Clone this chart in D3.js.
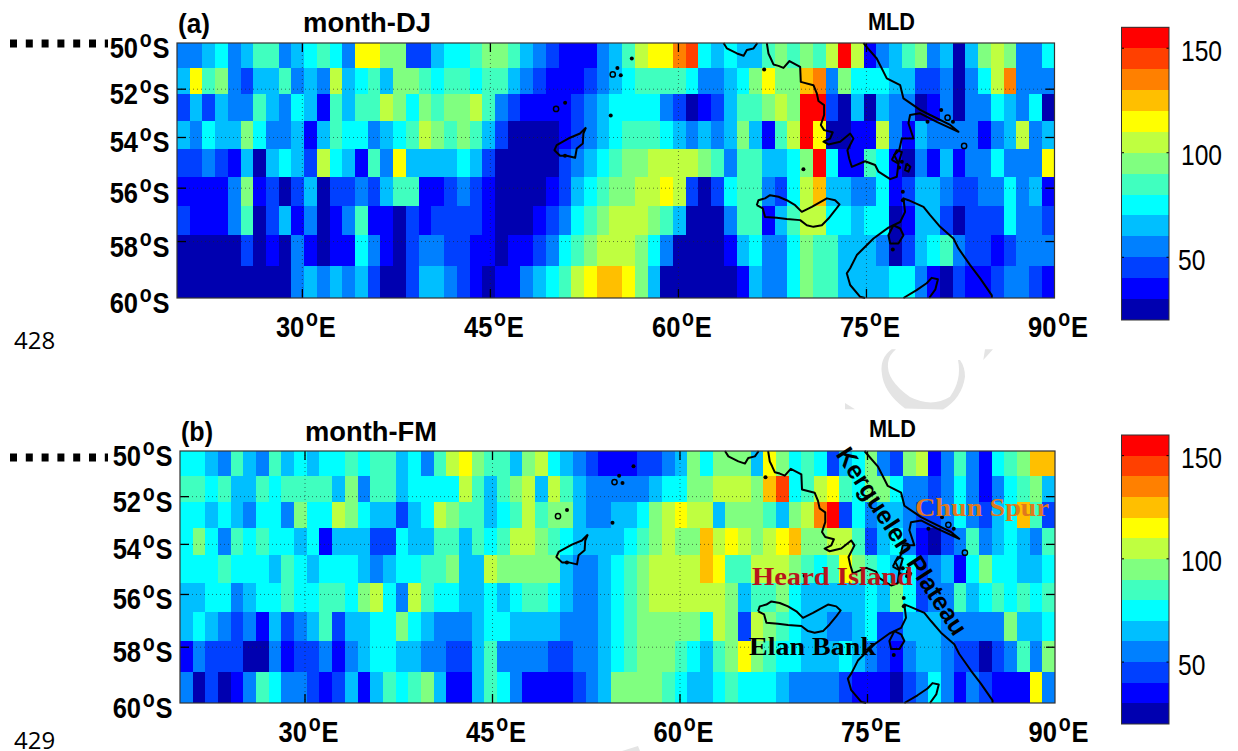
<!DOCTYPE html>
<html>
<head>
<meta charset="utf-8">
<title>MLD month-DJ and month-FM</title>
<script src="https://cdn.jsdelivr.net/npm/d3@7"></script>
<style>
    html, body { margin: 0; background: #fff; overflow: hidden; }
    text { font-family: "Liberation Sans", Arial, sans-serif; fill: #000; }
</style>
</head>
<body>
<div id="wrapper"></div>
<script>
// mixed layer depth, one row per latitude band (north to south), 69 longitude bins
const mldDJ = [
    [55,55,65,75,55,65,85,85,55,65,75,85,75,55,115,115,95,95,45,45,65,75,75,85,95,95,85,65,55,45,35,35,35,55,65,85,105,115,115,135,145,75,65,75,65,65,85,95,85,95,85,105,155,105,35,55,65,85,95,55,65,25,65,95,105,95,55,55,75],
    [65,115,85,95,55,45,65,65,85,55,65,55,105,65,75,85,65,95,95,85,75,85,85,75,85,85,65,55,45,35,35,35,45,55,65,75,85,85,85,85,75,55,55,65,75,95,115,95,95,125,135,55,95,75,75,75,65,65,45,45,55,25,55,75,105,135,55,55,55],
    [45,65,45,65,55,55,85,65,55,75,65,35,85,65,85,85,105,95,75,95,85,95,95,105,85,55,45,35,35,35,35,45,55,65,75,75,75,75,55,45,25,35,45,65,85,85,95,105,95,155,155,45,25,65,25,65,55,55,25,35,55,25,55,55,75,65,55,75,25],
    [65,55,75,65,65,95,75,55,55,65,35,65,85,75,75,55,65,75,85,105,95,85,95,85,65,45,25,25,25,25,35,45,55,65,75,85,85,85,75,65,55,65,55,65,95,65,35,85,105,155,115,25,25,35,35,105,55,35,65,55,55,55,55,35,55,65,105,55,65],
    [45,45,55,45,35,65,25,65,75,65,45,105,75,65,35,85,55,115,65,65,65,65,75,65,45,25,25,25,25,25,45,55,65,75,85,95,95,105,105,105,105,95,85,55,85,85,65,65,75,95,155,75,35,35,85,75,35,25,55,35,65,35,55,55,75,55,55,55,115],
    [35,35,35,35,55,95,35,45,25,45,65,25,45,45,55,45,65,85,85,35,35,45,55,45,35,25,25,25,25,35,45,65,75,85,95,95,105,105,115,105,45,25,45,75,85,85,55,45,75,105,125,65,65,55,55,75,35,45,65,65,55,45,45,55,55,75,55,65,35],
    [45,35,35,35,55,85,25,45,65,35,55,25,35,55,85,35,35,25,45,35,45,45,45,45,35,25,25,25,35,45,55,75,85,95,105,105,105,95,85,65,25,25,25,55,85,85,35,65,85,105,105,75,75,65,75,75,25,35,65,65,45,25,45,45,45,75,55,55,45],
    [25,25,25,25,25,45,25,35,25,55,35,25,35,35,75,55,35,25,45,55,55,45,45,35,35,25,35,35,45,55,75,85,95,105,105,105,95,75,55,25,25,25,25,35,65,75,55,55,75,95,85,85,65,65,65,55,25,45,65,75,85,55,45,45,35,45,55,55,55],
    [25,25,25,25,25,25,25,25,25,55,65,55,65,55,65,45,25,25,45,65,65,55,45,35,25,35,35,55,65,75,85,105,115,125,125,115,95,65,25,25,25,25,25,25,35,65,55,55,75,95,85,85,65,65,65,65,75,75,55,35,25,45,35,35,45,55,55,45,35]
];
const mldFM = [
    [75,75,65,55,85,65,55,85,65,75,65,75,75,85,75,85,85,65,75,55,85,105,115,95,85,85,65,95,105,75,65,55,45,35,35,35,45,45,55,65,95,75,95,95,95,65,115,95,75,85,75,45,65,75,95,55,45,95,105,35,55,85,55,35,75,85,95,125,125],
    [85,85,75,85,65,65,85,75,85,85,85,85,65,95,55,85,85,65,75,75,75,75,105,85,65,85,95,105,65,105,85,65,55,55,55,55,55,65,75,75,95,95,105,105,105,95,125,145,75,85,105,115,85,75,95,95,75,55,55,45,55,75,55,35,55,75,85,95,65],
    [75,75,65,75,65,55,75,75,55,95,75,75,105,95,75,65,65,45,65,75,105,95,85,85,65,75,85,105,85,95,95,65,55,55,65,65,75,95,105,115,105,105,65,95,95,95,85,65,95,105,135,155,45,75,55,65,65,55,45,45,55,75,55,45,65,75,125,85,45],
    [75,95,75,55,85,75,85,75,75,65,75,35,65,65,65,45,45,75,65,65,85,85,65,85,75,85,105,105,95,85,75,65,65,65,65,75,85,95,105,95,95,125,105,115,105,95,105,115,125,95,95,105,105,85,45,65,75,55,35,25,45,55,85,55,65,75,65,55,85],
    [75,75,75,85,75,75,75,65,85,75,65,75,75,75,65,55,65,75,75,85,85,95,65,65,105,95,95,95,95,95,65,55,55,65,75,85,95,105,105,105,105,125,115,85,85,105,105,105,95,85,75,85,115,95,85,75,65,75,45,55,65,35,75,95,75,75,65,65,75],
    [65,65,75,75,55,65,75,75,85,75,75,85,85,75,95,105,75,55,105,85,75,75,65,65,75,65,75,85,85,75,65,55,55,65,75,85,95,105,105,105,105,105,105,95,65,85,85,95,75,65,65,65,65,65,75,65,95,75,45,55,55,85,65,75,85,75,85,75,85],
    [65,75,65,55,45,55,35,65,45,55,65,85,45,65,65,75,75,95,75,65,55,55,55,65,75,75,65,65,65,65,55,55,55,65,75,85,95,95,95,95,95,75,105,95,45,105,95,85,75,65,65,55,55,65,75,45,45,65,65,65,55,55,55,55,55,95,65,65,75],
    [35,55,45,45,45,25,25,55,35,45,45,55,35,55,65,75,75,65,65,55,55,45,45,65,85,55,55,55,55,45,45,55,55,65,75,85,95,95,95,85,75,65,85,95,115,95,85,75,75,65,65,65,75,65,55,45,35,55,65,65,55,45,45,25,45,55,85,55,95],
    [55,25,45,25,35,55,85,75,55,55,45,35,45,65,35,65,85,75,85,95,65,35,35,65,85,75,55,35,35,35,35,45,55,65,95,95,95,95,85,75,65,65,75,85,75,75,75,65,55,55,55,55,45,35,35,35,25,45,55,75,55,35,55,45,35,35,35,115,55]
];
const latTicks = [50, 52, 54, 56, 58, 60];
const lonTicks = [30, 45, 60, 75, 90];
const colorTicks = [50, 100, 150];
const jetColors = ['#0000b0', '#0000ff', '#0040ff', '#0080ff', '#00bfff', '#00ffff', '#40ffbf', '#80ff80', '#bfff40', '#ffff00', '#ffbf00', '#ff8000', '#ff4000', '#ff0000'];

// contours as [lon, lat south]
const plateauCoast = [[67.05,50],[67.18,50.46],[67.37,50.68],[67.58,50.94],[67.98,51],[68.38,51.09],[68.86,50.79],[69.71,51.04],[69.76,51.69],[70.77,51.83],[71.04,52.18],[71.17,52.5],[71.62,52.67],[71.62,53.08],[71.36,53.49],[71.62,53.7],[72.31,53.79],[72.1,54.04],[71.57,54.17],[71.97,54.28],[72.9,54.17],[73.7,53.84],[73.96,54.04],[73.48,54.51],[73.62,54.84],[73.83,55.17],[74.89,54.95],[75.69,55.1],[75.96,55.36],[76.89,55.65],[77.42,55.56],[77.55,55.04],[77.21,54.7],[77.61,54.51],[77.82,54.04],[78.75,54.04],[78.35,53.42],[78.48,53.08],[79.28,53.01],[80.61,53.36],[82.34,53.77],[81.68,53.49],[80.08,53.08],[79.28,52.87],[77.95,52.39],[77.69,51.83],[76.62,51.54],[76.36,51.26],[75.82,50.68],[74.89,50.09],[74.76,50]];
const elanCoast = [[66.25,56.65],[66.38,56.46],[66.91,56.39],[67.31,56.27],[67.98,56.33],[68.64,56.46],[69.31,56.65],[69.84,56.9],[70.64,56.71],[71.84,56.39],[72.5,56.46],[72.85,56.62],[72.5,56.84],[71.97,57.15],[71.44,57.4],[70.77,57.46],[70.24,57.4],[69.71,57.21],[68.64,57.17],[67.84,57.12],[66.91,57.09],[66.73,56.77],[66.25,56.65]];
const southCoast = [[74.89,60],[74.5,59.96],[73.7,59.55],[73.43,59.14],[73.7,58.96],[74.23,58.49],[75.56,57.89],[76.75,57.49],[77.69,57.28],[78.08,56.9],[77.95,56.39],[78.35,56.46],[79.55,56.71],[80.08,57.02],[80.88,57.46],[81.94,57.89],[82.34,58.25],[83.27,58.85],[84.07,59.32],[85,59.91],[85,60]];
const southInlet = [[77.95,60],[79,59.73],[79.8,59.49],[80.2,59.3],[80.7,59.35],[80.5,59.7],[80,60]];
const southIsle = [[77.15,57.4],[76.75,57.77],[76.89,58.07],[77.55,58.07],[77.95,57.77],[77.69,57.52],[77.15,57.4]];
const kerguelenIsle = [[77.02,54.9],[77.42,54.51],[77.82,54.58],[77.55,55.04],[77.02,54.9]];
const kerguelenOval = [[78.2,55.04],[78.5,55.17],[78.35,55.36],[78.08,55.3],[78.2,55.04]];
const crozetCoast = [[52.63,53.59],[52.42,53.84],[52.37,54.24],[51.89,54.44],[51.76,54.81],[51.09,54.73],[50.56,54.73],[50.11,54.51],[50.29,54.31],[51.35,54.01],[52.15,53.84],[52.63,53.59]];
const northCoast = [[63.6,50],[63.87,50.24],[64.67,50.46],[65.2,50.56],[65.46,50.31],[65.99,50.24],[66.3,50]];
const coasts = [plateauCoast, elanCoast, southCoast, southInlet, southIsle, kerguelenIsle, kerguelenOval, crozetCoast, northCoast];
const islets = [[55.13,51.09],[55.4,51.41],[56.28,50.68],[54.6,53.1],[50.96,52.57],[50.95,54.73],[77.1,58.29],[77.9,56.14],[77.9,56.46],[77.82,54.97],[77.6,55.2],[80.96,52.87],[81.9,53.36],[79.87,53.36],[69.97,55.26],[66.84,51.16]];
const ringIslets = [[54.76,51.37],[50.24,52.83],[81.47,53.19],[82.79,54.34]];

const panels = [
    {letter: '(a)', title: 'month-DJ', values: mldDJ, left: 177, right: 1054.5, top: 43, bottom: 298,
     letterX: 178, letterY: 33, titleX: 303, titleY: 32, mldX: 868, mldY: 30, barTop: 27.3, barBottom: 320, pageNo: '428', pageY: 349},
    {letter: '(b)', title: 'month-FM', values: mldFM, left: 180, right: 1055, top: 451, bottom: 703,
     letterX: 181, letterY: 441, titleX: 305, titleY: 441, mldX: 869, mldY: 437, barTop: 435, barBottom: 724, pageNo: '429', pageY: 749}
];

const wrapper = d3.select('#wrapper').append('svg').attr('width', 1238).attr('height', 751);
const mercator = lat => Math.log(Math.tan(Math.PI / 4 + lat * Math.PI / 360));
const color = d3.scaleQuantize().domain([20, 160]).range(jetColors);

// faint watermark left on the scanned page
const watermark = wrapper.append('g').attr('fill', '#e4e4e4');
watermark.append('path').attr('d', 'M891.7,349.3Q880,358 881.7,372Q883,392 905,408.5L943,409.5Q962,398 965,376.7Q965,367 960,360L958,360Q962,380 950,396.7Q932,408 910,397Q886,380 888,363Q889,355 896,349.3Z');
watermark.append('path').attr('d', 'M983.3,360L993,349.3L985,349.3Z');
watermark.append('path').attr('d', 'M845,403L855,409.3L845,409.3Z');
watermark.append('path').attr('d', 'M622,751L638,746L640,751Z');

function drawPanel(p) {
    const nRows = p.values.length;
    const nCols = p.values[0].length;
    const xScale = d3.scaleLinear().domain([20, 90]).range([p.left, p.right]);
    const yScale = d3.scaleLinear().domain([mercator(50), mercator(60)]).range([p.top, p.bottom]);
    const lonEdge = i => 20 + i * 70 / nCols;
    const latEdge = i => 50 + i * 10 / nRows;
    const yPos = lat => yScale(mercator(lat));

    const bounds = wrapper.append('g');
    p.values.forEach((row, r) => {
        bounds.append('g').attr('shape-rendering', 'crispEdges')
            .selectAll('rect').data(row).join('rect')
            .attr('x', (d, c) => xScale(lonEdge(c)))
            .attr('y', yPos(latEdge(r)))
            .attr('width', (d, c) => xScale(lonEdge(c + 1)) - xScale(lonEdge(c)))
            .attr('height', yPos(latEdge(r + 1)) - yPos(latEdge(r)))
            .attr('fill', d => color(d));
    });

    // dotted grid
    bounds.append('g').selectAll('line').data(latTicks.slice(1, -1)).join('line')
        .attr('x1', p.left).attr('x2', p.right).attr('y1', yPos).attr('y2', yPos)
        .attr('stroke', '#222').attr('stroke-dasharray', '1 3').attr('opacity', 0.6);
    bounds.append('g').selectAll('line').data(lonTicks.slice(0, -1)).join('line')
        .attr('x1', xScale).attr('x2', xScale).attr('y1', p.top).attr('y2', p.bottom)
        .attr('stroke', '#222').attr('stroke-dasharray', '1 3').attr('opacity', 0.6);

    // contours and small islands
    const lineGenerator = d3.line().x(d => xScale(d[0])).y(d => yPos(d[1]));
    bounds.append('g').selectAll('path').data(coasts).join('path')
        .attr('d', lineGenerator).attr('fill', 'none').attr('stroke', '#000')
        .attr('stroke-width', 2).attr('stroke-linejoin', 'round');
    bounds.append('g').selectAll('circle').data(islets).join('circle')
        .attr('cx', d => xScale(d[0])).attr('cy', d => yPos(d[1])).attr('r', 2).attr('fill', '#000');
    bounds.append('g').selectAll('circle').data(ringIslets).join('circle')
        .attr('cx', d => xScale(d[0])).attr('cy', d => yPos(d[1])).attr('r', 2.6)
        .attr('fill', 'none').attr('stroke', '#000').attr('stroke-width', 1.5);

    // inner tick marks and frame
    const tickLength = 9;
    const tickMarks = bounds.append('g').attr('stroke', '#000').attr('stroke-width', 1.3);
    latTicks.slice(1, -1).forEach(lat => {
        tickMarks.append('line').attr('x1', p.left).attr('x2', p.left + tickLength).attr('y1', yPos(lat)).attr('y2', yPos(lat));
        tickMarks.append('line').attr('x1', p.right).attr('x2', p.right - tickLength).attr('y1', yPos(lat)).attr('y2', yPos(lat));
    });
    lonTicks.slice(0, -1).forEach(lon => {
        tickMarks.append('line').attr('x1', xScale(lon)).attr('x2', xScale(lon)).attr('y1', p.top).attr('y2', p.top + tickLength);
        tickMarks.append('line').attr('x1', xScale(lon)).attr('x2', xScale(lon)).attr('y1', p.bottom).attr('y2', p.bottom - tickLength);
    });
    bounds.append('rect').attr('x', p.left).attr('y', p.top).attr('width', p.right - p.left).attr('height', p.bottom - p.top)
        .attr('fill', 'none').attr('stroke', '#333').attr('stroke-width', 1.2);

    // axis labels with a raised degree sign
    const degreeLabel = (sel, number, end) => {
        sel.append('tspan').text(number);
        sel.append('tspan').attr('dy', -11).attr('dx', 2).attr('font-size', 23).text('o');
        sel.append('tspan').attr('dy', 11).attr('dx', 1).text(end);
    };
    const latAxis = d3.axisLeft(d3.scaleLinear().domain(latTicks.map(mercator)).range(latTicks.map(yPos)))
        .tickValues(latTicks.map(mercator)).tickSize(0).tickFormat('');
    const latGroup = bounds.append('g').attr('transform', `translate(${p.left},0)`).call(latAxis);
    latGroup.select('.domain').remove();
    latGroup.selectAll('.tick text').data(latTicks)
        .attr('x', null).attr('dy', null)
        .attr('transform', 'translate(-7.5,14.5) scale(0.85,1)')
        .attr('text-anchor', 'end').attr('font-size', 30).attr('font-weight', 'bold').attr('font-family', null)
        .each(function(d) { degreeLabel(d3.select(this), d, 'S'); });

    const lonAxis = d3.axisBottom(xScale).tickValues(lonTicks).tickSize(0).tickFormat('');
    const lonGroup = bounds.append('g').attr('transform', `translate(0,${p.bottom})`).call(lonAxis);
    lonGroup.select('.domain').remove();
    lonGroup.selectAll('.tick text')
        .attr('y', null).attr('dy', null)
        .attr('transform', 'translate(3,38.5) scale(0.85,1)')
        .attr('text-anchor', 'middle').attr('font-size', 30).attr('font-weight', 'bold').attr('font-family', null)
        .each(function(d) { degreeLabel(d3.select(this), d, 'E'); });

    // titles
    const label = (x, y, str, size, length) => wrapper.append('text')
        .attr('x', x).attr('y', y).attr('font-size', size).attr('font-weight', 'bold')
        .attr('textLength', length).attr('lengthAdjust', 'spacingAndGlyphs').text(str);
    label(p.letterX, p.letterY, p.letter, 27, 32);
    label(p.titleX, p.titleY, p.title, 27, p.title === 'month-DJ' ? 128 : 132);
    label(p.mldX, p.mldY, 'MLD', 24, 47);

    // colour bar
    const barScale = d3.scaleLinear().domain([20, 160]).range([p.barBottom, p.barTop]);
    const bar = wrapper.append('g');
    bar.append('g').attr('shape-rendering', 'crispEdges')
        .selectAll('rect').data(jetColors).join('rect')
        .attr('x', 1121.5).attr('width', 47.5)
        .attr('y', c => barScale(color.invertExtent(c)[1]))
        .attr('height', c => barScale(color.invertExtent(c)[0]) - barScale(color.invertExtent(c)[1]))
        .attr('fill', c => c);
    const barAxis = d3.axisRight(barScale).tickValues(colorTicks).tickSize(0).tickPadding(0);
    const barGroup = bar.append('g').attr('transform', 'translate(1169,0)').call(barAxis);
    barGroup.select('.domain').remove();
    barGroup.selectAll('.tick text')
        .attr('x', null).attr('dy', null)
        .attr('transform', d => `translate(${d < 100 ? 9 : 12},12) scale(0.82,1)`)
        .attr('text-anchor', 'start').attr('font-size', 30).attr('font-family', null);
    colorTicks.forEach(v => {
        bar.append('line').attr('x1', 1121.5).attr('x2', 1124).attr('y1', barScale(v)).attr('y2', barScale(v)).attr('stroke', '#000');
        bar.append('line').attr('x1', 1169).attr('x2', 1166.5).attr('y1', barScale(v)).attr('y2', barScale(v)).attr('stroke', '#000');
    });
    bar.append('rect').attr('x', 1121.5).attr('y', p.barTop).attr('width', 47.5).attr('height', p.barBottom - p.barTop)
        .attr('fill', 'none').attr('stroke', '#333').attr('stroke-width', 1);

    // heavy dashed stub at the 50S line and the page line number
    const stubY = p.letter === '(a)' ? 43.5 : 457.5;
    wrapper.append('line').attr('x1', 10).attr('x2', 108).attr('y1', stubY).attr('y2', stubY)
        .attr('stroke', '#000').attr('stroke-width', 8).attr('stroke-dasharray', '7 8.8');
    wrapper.append('text').attr('x', 14).attr('y', p.pageY).attr('font-size', 24)
        .style('font-family', '"Open Sans", sans-serif').text(p.pageNo);
}

panels.forEach(drawPanel);

// annotations on the lower panel
const annotate = (x, y, str, fill, length) => wrapper.append('text')
    .attr('x', x).attr('y', y).attr('font-size', 26).attr('font-weight', 'bold')
    .style('font-family', '"Liberation Serif", serif').style('fill', fill)
    .attr('textLength', length).attr('lengthAdjust', 'spacingAndGlyphs').text(str);
annotate(752, 585, 'Heard Island', '#b8141c', 161);
annotate(915, 516, 'Chun Spur', '#e0781e', 134);
annotate(749, 655, 'Elan Bank', '#000', 127);

wrapper.append('text')
    .attr('transform', 'translate(902,541) rotate(57)')
    .attr('text-anchor', 'middle').attr('dy', '0.35em')
    .attr('font-size', 25).attr('font-weight', 'bold')
    .text('Kerguelen Plateau');
</script>
</body>
</html>
